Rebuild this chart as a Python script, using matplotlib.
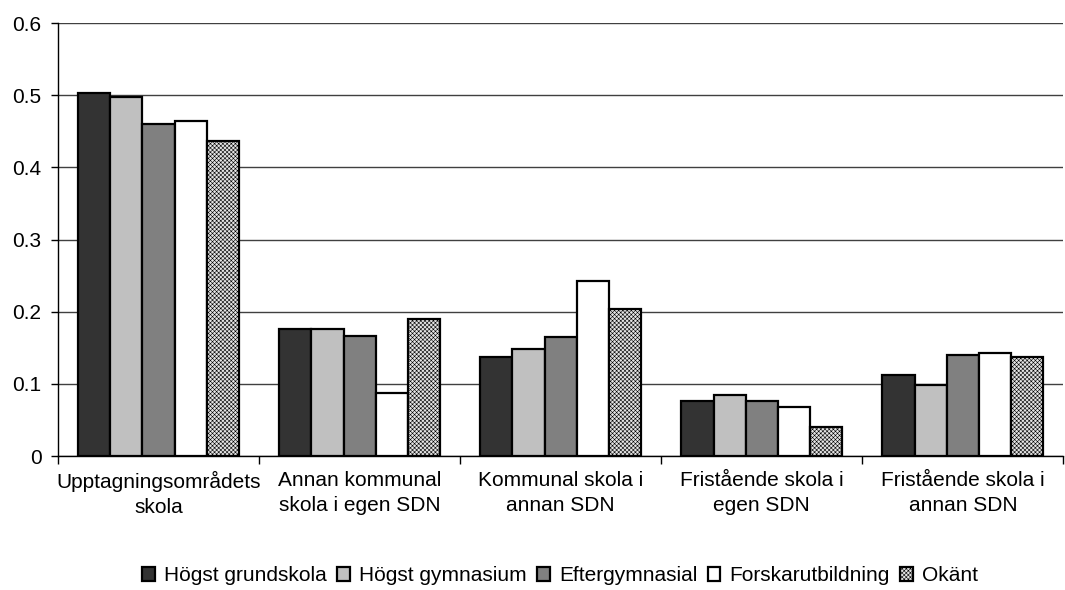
import numpy as np
import matplotlib.pyplot as plt

plt.rcParams['font.family'] = ['Liberation Sans', 'DejaVu Sans']
plt.rcParams['hatch.linewidth'] = 0.4

# categories and series
categories = ["Upptagningsområdets\nskola", "Annan kommunal\nskola i egen SDN",
              "Kommunal skola i\nannan SDN", "Fristående skola i\negen SDN",
              "Fristående skola i\nannan SDN"]
series_names = ["Högst grundskola", "Högst gymnasium", "Eftergymnasial",
                "Forskarutbildning", "Okänt"]
hogst_grundskola = [0.503, 0.176, 0.137, 0.076, 0.112]
hogst_gymnasium = [0.497, 0.176, 0.148, 0.084, 0.099]
eftergymnasial = [0.460, 0.166, 0.165, 0.076, 0.140]
forskarutbildning = [0.464, 0.087, 0.242, 0.068, 0.143]
okant = [0.436, 0.190, 0.204, 0.040, 0.137]

values = [hogst_grundskola, hogst_gymnasium, eftergymnasial, forskarutbildning, okant]
colors = ["#333333", "#c0c0c0", "#808080", "#ffffff", "#e4e4e4"]
hatches = [None, None, None, None, "xxxxxxxx"]

fig = plt.figure(figsize=(10.65, 5.9), dpi=100)
ax = fig.add_axes([0.0545, 0.227, 0.944, 0.734])

x = np.arange(len(categories))
w = 0.16
for i, vals in enumerate(values):
    ax.bar(x + (i - 2) * w, vals, width=w, color=colors[i], edgecolor="black",
           linewidth=1.6, hatch=hatches[i], label=series_names[i], zorder=3)

ax.set_xlim(-0.5, 4.5)
ax.set_ylim(0, 0.6)
ax.set_yticks(np.arange(0, 0.61, 0.1))
ax.set_yticklabels(["0", "0.1", "0.2", "0.3", "0.4", "0.5", "0.6"])
ax.yaxis.grid(True, color="#404040", linewidth=1)
ax.set_axisbelow(True)

ax.set_xticks(x)
ax.set_xticklabels(categories, linespacing=1.35)
ax.set_xticks(np.arange(-0.5, 4.6, 1), minor=True)
ax.tick_params(axis="x", which="major", length=0, pad=11, labelsize=15)
ax.tick_params(axis="x", which="minor", length=6, width=1, direction="out")
ax.tick_params(axis="y", length=5, width=1, labelsize=15, pad=7)

for s in ["top", "right"]:
    ax.spines[s].set_visible(False)
for s in ["left", "bottom"]:
    ax.spines[s].set_color("black")
    ax.spines[s].set_linewidth(1)

fig.legend(loc="center", bbox_to_anchor=(0.526, 0.024), ncol=5, frameon=False,
           fontsize=15, handlelength=0.6, handleheight=0.6, handletextpad=0.45,
           columnspacing=0.5, borderpad=0)

fig.savefig("out.png", dpi=100)
